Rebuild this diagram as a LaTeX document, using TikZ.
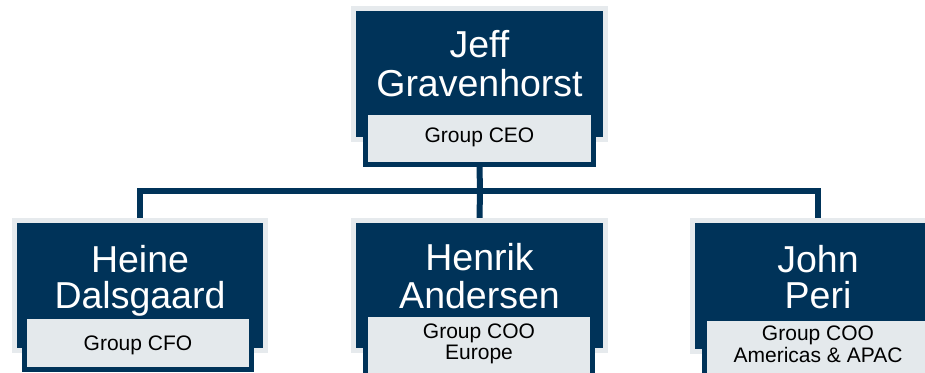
\documentclass[tikz,border=0pt]{standalone}
\usepackage{fontspec}
\setmainfont{Liberation Sans}
\definecolor{navy}{HTML}{003359}
\definecolor{framegray}{HTML}{E6EAED}
\definecolor{taggray}{HTML}{E4E9EC}
\begin{document}
\begin{tikzpicture}[x=1pt,y=-1pt,
  framebox/.style={fill=framegray, draw=none, inner sep=0pt, minimum width=256pt, minimum height=135pt},
  card/.style={fill=navy, draw=none, inner sep=0pt, minimum width=246pt, minimum height=125pt},
  tagbox/.style={fill=taggray, draw=navy, line width=5pt, inner sep=0pt, minimum width=227pt},
  nameline/.style={text=white, anchor=base, inner sep=0pt, font=\fontsize{37.5}{40}\selectfont},
  tagtext/.style={text=black, anchor=base, inner sep=0pt, font=\fontsize{21}{22}\selectfont},
  wire/.style={draw=navy, line width=6pt, line join=miter}]
\useasboundingbox (0,0) rectangle (925,372);
\clip (0,0) rectangle (925,372);

% CEO
\node[framebox, minimum width=257pt, minimum height=136pt] (ceo) at (479.5,74) {};
\node[card, minimum width=247pt, minimum height=126pt] (ceocard) at (479.5,74) {};
\node[tagbox, minimum width=228pt, minimum height=52pt] (ceotag) at (479.5,138.5) {};
\node[nameline] (ceoA) at (479.5,57) {Jeff};
\node[nameline] (ceoB) at (479.5,96.5) {Gravenhorst};
\node[tagtext] (ceoT) at (479.5,142) {Group CEO};

% CFO
\node[framebox] (cfo) at (140,285.5) {};
\node[card] (cfocard) at (140,285.5) {};
\node[tagbox, minimum height=53pt] (cfotag) at (138,343) {};
\node[nameline] (cfoA) at (140,272) {Heine};
\node[nameline] (cfoB) at (140,308) {Dalsgaard};
\node[tagtext] (cfoT) at (138,350) {Group CFO};

% COO Europe
\node[framebox, minimum width=257pt] (cooe) at (479.5,285.5) {};
\node[card, minimum width=247pt] (cooecard) at (479.5,285.5) {};
\node[tagbox, minimum height=64pt] (cooetag) at (479,346.5) {};
\node[nameline] (cooeA) at (479.5,270.5) {Henrik};
\node[nameline] (cooeB) at (479.5,308) {Andersen};
\node[tagtext] (cooeT) at (479,338) {Group COO};
\node[tagtext] (cooeU) at (479,359.5) {Europe};

% COO Americas & APAC
\node[framebox, minimum height=136pt] (cooa) at (818,286) {};
\node[card, minimum height=126pt] (cooacard) at (818,286) {};
\node[tagbox, minimum height=64pt] (cooatag) at (818,350.5) {};
\node[nameline] (cooaA) at (818,272) {John};
\node[nameline] (cooaB) at (818,308) {Peri};
\node[tagtext] (cooaT) at (818,340.5) {Group COO};
\node[tagtext] (cooaU) at (818,362.5) {Americas \& APAC};

% reporting lines
\coordinate (hub) at (480,190.5);
\draw[wire] (ceotag.south) -- (hub);
\draw[wire] (hub) -| (cfo.north);
\draw[wire] (hub) -- (cooe.north);
\draw[wire] (hub) -| (cooa.north);
\end{tikzpicture}
\end{document}
